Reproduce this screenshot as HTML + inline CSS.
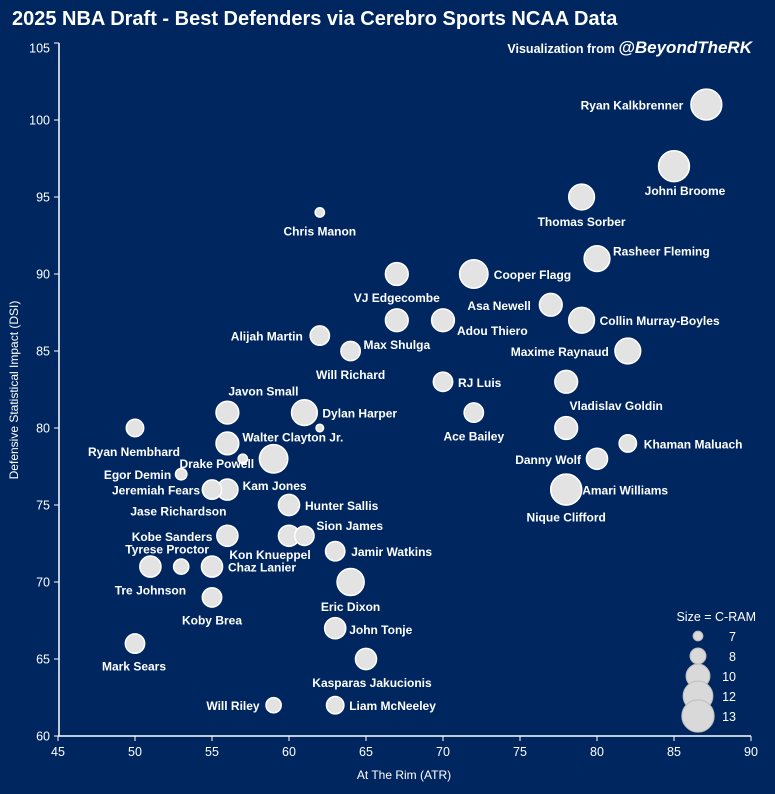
<!DOCTYPE html>
<html><head><meta charset="utf-8"><style>
html,body{margin:0;padding:0;background:#002660;}
svg{display:block;font-family:"Liberation Sans",sans-serif;}
</style></head><body>
<svg id="chart" width="775" height="794" viewBox="0 0 775 794">
<rect width="775" height="794" fill="#002660"/>
<text x="12" y="25" fill="#fff" font-size="20" font-weight="bold">2025 NBA Draft - Best Defenders via Cerebro Sports NCAA Data</text>
<text x="752" y="53" fill="#fff" text-anchor="end"><tspan font-size="12.5" font-weight="bold">Visualization from </tspan><tspan font-size="17" font-weight="bold" font-style="italic">@BeyondTheRK</tspan></text>
<text x="404" y="779" fill="#fff" font-size="12" text-anchor="middle">At The Rim (ATR)</text>
<text transform="translate(18,390) rotate(-90)" fill="#fff" font-size="12" text-anchor="middle">Defensive Statistical Impact (DSI)</text>
<g id="axes"></g><g id="marks"></g><g id="legend"></g>
</svg>
<script>
const names=["Ryan Kalkbrenner","Johni Broome","Thomas Sorber","Chris Manon","Rasheer Fleming","VJ Edgecombe","Cooper Flagg","Asa Newell","Collin Murray-Boyles","Max Shulga","Adou Thiero","Alijah Martin","Will Richard","Maxime Raynaud","RJ Luis","Vladislav Goldin","Javon Small","Dylan Harper","Ace Bailey","Ryan Nembhard","","Walter Clayton Jr.","Drake Powell","Kam Jones","Egor Demin","Jeremiah Fears","Jase Richardson","","Khaman Maluach","Danny Wolf","Nique Clifford","Amari Williams","Hunter Sallis","Kobe Sanders","Kon Knueppel","Sion James","Tyrese Proctor","Tre Johnson","Chaz Lanier","Jamir Watkins","Eric Dixon","Koby Brea","John Tonje","Mark Sears","Kasparas Jakucionis","Will Riley","Liam McNeeley"];
const atr=[87.1,85,79,62,80,67,72,77,79,67,70,62,64,82,70,78,56,61,72,50,62,56,57,59,53,55,56,78,82,80,78,78,60,56,60,61,53,51,55,63,64,55,63,50,65,59,63];
const dsi=[101,97,95,94,91,90,90,88,87,87,87,86,85,85,83,83,81,81,81,80,80,79,78,78,77,76,76,80,79,78,76,76,75,73,73,73,71,71,71,72,70,69,67,66,65,62,62];
const cram=[13,13,11,7,11,10,12,10,11,10,10,9,9,11,9,10,10,11,9,8.5,6.8,10,7,12,7.3,9,9.5,10,8.5,9.5,13,13,9.5,9.5,9.5,9,8,9.5,9.5,9,11.5,9,9.5,9,9.5,8,8.5];
const xTicks=[45,50,55,60,65,70,75,80,85,90];
const yTicks=[60,65,70,75,80,85,90,95,100,105];
const legendVals=[7,8,10,12,13];
// label offsets (style, not data): dx, dy, anchor
const lab=[[-23,5,"end"],[11,29,"middle"],[0,29,"middle"],[0,23,"middle"],[16,-3,"start"],[0,28,"middle"],[20,5,"start"],[-20,5,"end"],[18,5,"start"],[0,29,"middle"],[14,15,"start"],[-17,5,"end"],[0,28,"middle"],[-19,5,"end"],[15,5,"start"],[50,28,"middle"],[36,-17,"middle"],[18,5,"start"],[0,28,"middle"],[-1,28,"middle"],[0,0,"middle"],[15,-2,"start"],[-26,9,"middle"],[1,31,"middle"],[-10,5,"end"],[-12,5,"end"],[-49,26,"middle"],[0,0,"middle"],[16,5,"start"],[-16,5,"end"],[0,32,"middle"],[16,5,"start"],[16,5,"start"],[-15,5,"end"],[-19,23,"middle"],[12,-6,"start"],[-14,-13,"middle"],[0,28,"middle"],[16,5,"start"],[16,5,"start"],[0,29,"middle"],[0,27,"middle"],[14,6,"start"],[-1,27,"middle"],[6,28,"middle"],[-14,5,"end"],[14,5,"start"]];
const NS="http://www.w3.org/2000/svg";
const X0=58,Y100=120,K=15.4;
function xs(v){return X0+(v-45)*K;}
function ys(v){return Y100+(100-v)*K;}
function rs(c){return 6*Math.sqrt(Math.max(c-6.4,0.1));}
function mk(tag,attrs,parent,txt){const e=document.createElementNS(NS,tag);for(const k in attrs)e.setAttribute(k,attrs[k]);if(txt!==undefined)e.textContent=txt;parent.appendChild(e);return e;}
const axes=document.getElementById('axes');
let l=mk('line',{x1:59,y1:43,x2:59,y2:736,stroke:'#fff','stroke-width':1.5},axes);


l=mk('line',{x1:58,y1:736,x2:751,y2:736,stroke:'#fff','stroke-width':1.5},axes);


xTicks.forEach(t=>{const x=xs(t);
 mk('line',{x1:x,y1:736,x2:x,y2:741,stroke:'#fff'},axes);
 const e=mk('text',{x:x,y:756,fill:'#fff','font-size':12.5,'text-anchor':'middle'},axes,String(t));
 
 });
yTicks.forEach(t=>{const y=ys(t);
 mk('line',{x1:54,y1:Math.max(y,43),x2:59,y2:Math.max(y,43),stroke:'#fff'},axes);
 const e=mk('text',{x:50,y:Math.max(y,48)+4.5,fill:'#fff','font-size':12.5,'text-anchor':'end'},axes,String(t));
 
 });
const marks=document.getElementById('marks');
const order=atr.map((_,i)=>i).sort((a,b)=>cram[b]-cram[a]);
order.forEach(i=>{const c=mk('circle',{cx:xs(atr[i]),cy:ys(dsi[i]),r:rs(cram[i]),fill:'#e3e3e3',stroke:'#ffffff','stroke-width':1.5},marks);
 
 });
atr.forEach((v,i)=>{if(!names[i])return;const o=lab[i];
 const t=mk('text',{x:xs(v)+o[0],y:ys(dsi[i])+o[1],fill:'#fff','font-size':12,'font-weight':'bold','text-anchor':o[2]},marks,names[i]);
 
 });
const lg=document.getElementById('legend');
let lt=mk('text',{x:756,y:621,fill:'#fff','font-size':12.5,'text-anchor':'end'},lg,'Size = C-RAM');


legendVals.forEach((v,i)=>{const y=636+i*20;
 const c=mk('circle',{cx:698,cy:y,r:rs(v)*1.05,fill:'#d9d9d9',stroke:'#bdbdbd','stroke-width':1},lg);
 
 
 const t=mk('text',{x:736,y:y+5,fill:'#fff','font-size':12.5,'text-anchor':'end'},lg,String(v));
 
 });
</script>
</body></html>
